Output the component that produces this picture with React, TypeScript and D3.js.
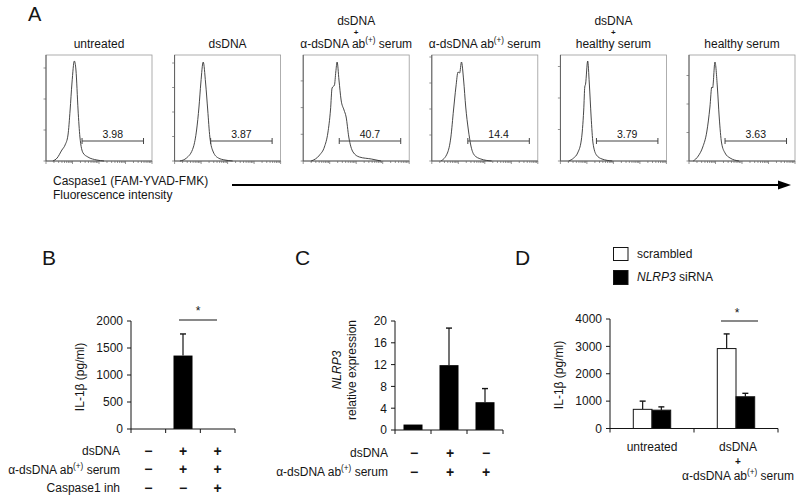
import React from "react";
import * as d3 from "d3";

// ---------------- Panel A data ----------------
const flowTitleTop = ["", "", "dsDNA", "", "dsDNA", ""];
const flowTitleBottom = [
  "untreated",
  "dsDNA",
  "α-dsDNA ab(+) serum",
  "α-dsDNA ab(+) serum",
  "healthy serum",
  "healthy serum",
];
const gatePercents = ["3.98", "3.87", "40.7", "14.4", "3.79", "3.63"];
const gateRange = [1.36, 3.68]; // log10 fluorescence
const gateLevel = 20; // count level of gate bar
const flowCountTickStep = [31, 24.5, 26.7, 26, 31.5, 28.5];

// [log10 fluorescence, count]
const histUntreated = [[0.26,0],[0.42,3],[0.60,11],[0.72,16],[0.83,26],[0.91,51],[0.98,78],[1.07,100],[1.13,91],[1.21,51],[1.28,24],[1.40,8],[1.58,4],[1.92,1],[2.19,0]];
const histDsDNA = [[0.20,0],[0.45,3],[0.71,14],[0.83,31],[0.92,54],[0.99,78],[1.08,99],[1.17,78],[1.25,51],[1.33,24],[1.46,9],[1.65,3],[1.90,1],[2.19,0]];
const histDsDNAAb = [[0.30,0],[0.62,6],[0.80,14],[0.93,28],[1.03,51],[1.09,73],[1.18,76],[1.23,89],[1.28,99],[1.35,81],[1.43,61],[1.54,51],[1.62,44],[1.72,24],[1.88,9],[2.12,4],[2.57,2],[2.94,0]];
const histAb = [[0.34,0],[0.59,8],[0.72,24],[0.82,51],[0.91,74],[0.99,89],[1.05,88],[1.12,99],[1.20,81],[1.28,54],[1.38,31],[1.47,16],[1.60,6],[1.85,2],[2.26,0]];
const histDsDNAHealthy = [[0.31,0],[0.50,3],[0.65,8],[0.79,21],[0.88,51],[0.92,74],[0.95,77],[1.03,100],[1.09,78],[1.16,44],[1.23,18],[1.36,6],[1.57,2],[1.96,0]];
const histHealthy = [[0.16,0],[0.35,5],[0.52,14],[0.67,29],[0.79,54],[0.86,74],[0.89,73],[0.98,99],[1.07,74],[1.14,44],[1.23,18],[1.36,8],[1.55,3],[1.89,0]];
const flowHists = [histUntreated, histDsDNA, histDsDNAAb, histAb, histDsDNAHealthy, histHealthy];

// ---------------- Panel B data ----------------
const bRowLabels = ["dsDNA", "α-dsDNA ab(+) serum", "Caspase1 inh"];
const bSigns = [["−", "+", "+"], ["−", "+", "+"], ["−", "−", "+"]];
const bMeans = [0, 1360, 0];
const bSD = [0, 400, 0];
const bTicks = [0, 500, 1000, 1500, 2000];

// ---------------- Panel C data ----------------
const cRowLabels = ["dsDNA", "α-dsDNA ab(+) serum"];
const cSigns = [["−", "+", "−"], ["−", "+", "+"]];
const cMeans = [1, 11.9, 5.1];
const cSD = [0, 6.8, 2.5];
const cTicks = [0, 4, 8, 12, 16, 20];

// ---------------- Panel D data ----------------
const dGroupTop = ["", "dsDNA"];
const dGroupBottom = ["untreated", "α-dsDNA ab(+) serum"];
const dSeries = ["scrambled", "NLRP3 siRNA"];
const dScrambled = [700, 2920];
const dScrambledSD = [300, 535];
const dSiRNA = [670, 1160];
const dSiRNASD = [120, 125];
const dTicks = [0, 1000, 2000, 3000, 4000];

const FONT = "'Liberation Sans', Arial, Helvetica, sans-serif";
const INK = "#151515";

function supParts(text: string, size: number) {
  const parts = text.split("(+)");
  if (parts.length === 1) return [<tspan key="a">{text}</tspan>];
  return [
    <tspan key="a">{parts[0]}</tspan>,
    <tspan key="b" fontSize={size * 0.68} dy={-size * 0.4}>(+)</tspan>,
    <tspan key="c" dy={size * 0.4}>{parts[1]}</tspan>,
  ];
}

function SupText({ text, x, y, anchor = "middle", size = 12 }: any) {
  return (
    <text x={x} y={y} textAnchor={anchor} fontSize={size} fill={INK}>
      {supParts(text, size)}
    </text>
  );
}

// stacked "top / + / bottom" label
function StackLabel({ top, bottom, x, yTop, yPlus, yBottom, plusSize = 10, size = 12 }: any) {
  if (!top) return <SupText text={bottom} x={x} y={yBottom} size={size} />;
  return (
    <g>
      <text x={x} y={yTop} textAnchor="middle" fontSize={size} fill={INK}>{top}</text>
      <text x={x} y={yPlus} textAnchor="middle" fontSize={plusSize} fontWeight="bold" fill={INK}>+</text>
      <SupText text={bottom} x={x} y={yBottom} size={size} />
    </g>
  );
}

// ---------------- Panel A ----------------
const BOX = 106;
const FLOW_LEFT0 = 46;
const FLOW_STEP = 128.6;
const FLOW_BOTTOM = 161;
const FLOW_Y_MAX = 106;

function FlowPanel({ i }: { i: number }) {
  const left = FLOW_LEFT0 + i * FLOW_STEP;
  const x = d3.scaleLinear().domain([0, 4]).range([left, left + BOX]);
  const y = d3.scaleLinear().domain([0, FLOW_Y_MAX]).range([FLOW_BOTTOM, FLOW_BOTTOM - BOX]);
  const path = d3
    .line<number[]>()
    .x((d) => x(d[0]))
    .y((d) => y(d[1]))
    .curve(d3.curveMonotoneX)(flowHists[i] as number[][]);
  const yTicks = d3.range(0, FLOW_Y_MAX, flowCountTickStep[i]);
  const xTicks: { v: number; major: boolean }[] = [];
  for (let d = 0; d < 4; d++)
    for (let k = 1; k < 10; k++) xTicks.push({ v: d + Math.log10(k), major: k === 1 });
  xTicks.push({ v: 4, major: true });
  const cx = left + BOX / 2;
  const gy = y(gateLevel);
  return (
    <g>
      <StackLabel top={flowTitleTop[i]} bottom={flowTitleBottom[i]} x={cx} yTop={25} yPlus={35} yBottom={47.8} plusSize={8} />
      <rect x={left} y={FLOW_BOTTOM - BOX} width={BOX} height={BOX} fill="none" stroke="#9a9a9a" strokeWidth={0.8} />
      <line x1={left} x2={left} y1={FLOW_BOTTOM - BOX} y2={FLOW_BOTTOM} stroke="#555" strokeWidth={0.9} />
      <line x1={left} x2={left + BOX} y1={FLOW_BOTTOM} y2={FLOW_BOTTOM} stroke="#555" strokeWidth={0.9} />
      {yTicks.map((t, k) => (
        <line key={k} x1={left - 2.5} x2={left} y1={y(t)} y2={y(t)} stroke="#666" strokeWidth={0.7} />
      ))}
      {xTicks.map((t, k) => (
        <line key={k} x1={x(t.v)} x2={x(t.v)} y1={FLOW_BOTTOM} y2={FLOW_BOTTOM + (t.major ? 3 : 2)} stroke="#666" strokeWidth={0.7} />
      ))}
      <path d={path || ""} fill="none" stroke="#333" strokeWidth={0.9} />
      <line x1={x(gateRange[0])} x2={x(gateRange[1])} y1={gy} y2={gy} stroke="#444" strokeWidth={1} />
      <line x1={x(gateRange[0])} x2={x(gateRange[0])} y1={gy - 3} y2={gy + 3} stroke="#444" strokeWidth={1} />
      <line x1={x(gateRange[1])} x2={x(gateRange[1])} y1={gy - 3} y2={gy + 3} stroke="#444" strokeWidth={1} />
      <text x={(x(gateRange[0]) + x(gateRange[1])) / 2} y={gy - 3} textAnchor="middle" fontSize={10.5} fill={INK}>
        {gatePercents[i]}
      </text>
    </g>
  );
}

// ---------------- generic helpers ----------------
function YAxis({ scale, x0, ticks }: any) {
  const [a, b] = scale.range();
  return (
    <g>
      <line x1={x0} x2={x0} y1={a} y2={b} stroke={INK} strokeWidth={1} />
      {ticks.map((t: number) => (
        <g key={t}>
          <line x1={x0 - 4} x2={x0} y1={scale(t)} y2={scale(t)} stroke={INK} strokeWidth={1} />
          <text x={x0 - 8} y={scale(t)} dy="0.36em" textAnchor="end" fontSize={12} fill={INK}>
            {t}
          </text>
        </g>
      ))}
    </g>
  );
}

function ErrorBar({ cx, yBase, yTop, color = INK }: any) {
  return (
    <g>
      <line x1={cx} x2={cx} y1={yBase} y2={yTop} stroke={color} strokeWidth={1.2} />
      <line x1={cx - 3} x2={cx + 3} y1={yTop} y2={yTop} stroke={color} strokeWidth={1.4} />
    </g>
  );
}

function Sign({ s, x, y }: any) {
  return (
    <text x={x} y={y} textAnchor="middle" fontSize={14} fontWeight="bold" fill={INK}>
      {s}
    </text>
  );
}

// ---------------- Panel B ----------------
function PanelB() {
  const x = d3.scaleBand<number>().domain([0, 1, 2]).range([131, 235]);
  const y = d3.scaleLinear().domain([0, 2000]).range([429, 321]);
  const bw = 19;
  const boundaries = [0, 1, 2].map((k) => x(k)!).concat([235]);
  return (
    <g>
      <text x={42} y={265} fontSize={21} fill={INK}>B</text>
      <text transform="translate(84,377) rotate(-90)" textAnchor="middle" fontSize={12} fill={INK}>
        IL-1β (pg/ml)
      </text>
      {bMeans.map((v, k) => {
        const cx = x(k)! + x.bandwidth() / 2;
        return (
          <g key={k}>
            {v > 0 && <rect x={cx - bw / 2} y={y(v)} width={bw} height={y(0) - y(v)} fill="#000" />}
            {bSD[k] > 0 && <ErrorBar cx={cx} yBase={y(v)} yTop={y(v + bSD[k])} />}
          </g>
        );
      })}
      <YAxis scale={y} x0={131} ticks={bTicks} />
      <line x1={131} x2={235} y1={y(0)} y2={y(0)} stroke={INK} strokeWidth={1} />
      {boundaries.map((b, k) => (
        <line key={k} x1={b} x2={b} y1={y(0)} y2={y(0) + 4} stroke={INK} strokeWidth={1} />
      ))}
      <line x1={179} x2={217} y1={320} y2={320} stroke={INK} strokeWidth={1.2} />
      <text x={198} y={315} textAnchor="middle" fontSize={12} fill={INK}>*</text>
      {bRowLabels.map((lab, r) => (
        <g key={r}>
          <SupText text={lab} x={120} y={455 + r * 18.5} anchor="end" size={12} />
          {bSigns[r].map((s, k) => (
            <Sign key={k} s={s} x={x(k)! + x.bandwidth() / 2} y={455.5 + r * 18.5} />
          ))}
        </g>
      ))}
    </g>
  );
}

// ---------------- Panel C ----------------
function PanelC() {
  const x = d3.scaleBand<number>().domain([0, 1, 2]).range([395, 503]);
  const y = d3.scaleLinear().domain([0, 20]).range([430, 321]);
  const bw = 19;
  const boundaries = [0, 1, 2].map((k) => x(k)!).concat([503]);
  return (
    <g>
      <text x={295} y={265} fontSize={21} fill={INK}>C</text>
      <text transform="translate(341,370) rotate(-90)" textAnchor="middle" fontSize={12} fontStyle="italic" fill={INK}>
        NLRP3
      </text>
      <text transform="translate(355.5,370) rotate(-90)" textAnchor="middle" fontSize={12} fill={INK}>
        relative expression
      </text>
      {cMeans.map((v, k) => {
        const cx = x(k)! + x.bandwidth() / 2;
        return (
          <g key={k}>
            <rect x={cx - bw / 2} y={y(v)} width={bw} height={y(0) - y(v)} fill="#000" />
            {cSD[k] > 0 && <ErrorBar cx={cx} yBase={y(v)} yTop={y(v + cSD[k])} />}
          </g>
        );
      })}
      <YAxis scale={y} x0={395} ticks={cTicks} />
      <line x1={395} x2={503} y1={y(0)} y2={y(0)} stroke={INK} strokeWidth={1} />
      {boundaries.map((b, k) => (
        <line key={k} x1={b} x2={b} y1={y(0)} y2={y(0) + 4} stroke={INK} strokeWidth={1} />
      ))}
      {cRowLabels.map((lab, r) => (
        <g key={r}>
          <SupText text={lab} x={388} y={457 + r * 19} anchor="end" size={12} />
          {cSigns[r].map((s, k) => (
            <Sign key={k} s={s} x={x(k)! + x.bandwidth() / 2 + 1} y={457.5 + r * 19} />
          ))}
        </g>
      ))}
    </g>
  );
}

// ---------------- Panel D ----------------
function PanelD() {
  const x0 = d3.scaleBand<number>().domain([0, 1]).range([610, 778]);
  const x1 = d3.scaleBand<number>().domain([0, 1]).range([-18.7, 18.7]);
  const y = d3.scaleLinear().domain([0, 4000]).range([428.5, 319]);
  const series = [
    { vals: dScrambled, sd: dScrambledSD, fill: "#fff" },
    { vals: dSiRNA, sd: dSiRNASD, fill: "#000" },
  ];
  return (
    <g>
      <text x={515} y={265} fontSize={21} fill={INK}>D</text>
      {/* legend */}
      <rect x={613.5} y={247.5} width={14.5} height={13} fill="#fff" stroke={INK} strokeWidth={1} />
      <text x={637} y={257.5} fontSize={12} fill={INK}>{dSeries[0]}</text>
      <rect x={613.5} y={270.5} width={14.5} height={14} fill="#000" stroke={INK} strokeWidth={1} />
      <text x={637} y={281} fontSize={12} fill={INK}>
        <tspan fontStyle="italic">NLRP3</tspan> siRNA
      </text>
      <text transform="translate(563,375) rotate(-90)" textAnchor="middle" fontSize={12} fill={INK}>
        IL-1β (pg/ml)
      </text>
      {dGroupBottom.map((g, gi) => {
        const gc = x0(gi)! + x0.bandwidth() / 2;
        return (
          <g key={gi}>
            {series.map((s, si) => {
              const bx = gc + x1(si)!;
              const cx = bx + x1.bandwidth() / 2;
              const v = s.vals[gi];
              return (
                <g key={si}>
                  <ErrorBar cx={cx} yBase={y(v)} yTop={y(v + s.sd[gi])} />
                  <rect x={bx} y={y(v)} width={x1.bandwidth()} height={y(0) - y(v)} fill={s.fill} stroke={INK} strokeWidth={1} />
                </g>
              );
            })}
            <StackLabel
              top={dGroupTop[gi]}
              bottom={g}
              x={gc + (gi === 1 ? 2 : 0)}
              yTop={451}
              yPlus={464.5}
              yBottom={gi === 1 ? 480 : 451}
            />
          </g>
        );
      })}
      <YAxis scale={y} x0={610} ticks={dTicks} />
      <line x1={610} x2={778} y1={y(0)} y2={y(0)} stroke={INK} strokeWidth={1} />
      {[610, 694, 778].map((b, k) => (
        <line key={k} x1={b} x2={b} y1={y(0)} y2={y(0) + 4} stroke={INK} strokeWidth={1} />
      ))}
      <line x1={721} x2={758} y1={321} y2={321} stroke={INK} strokeWidth={1.2} />
      <text x={737} y={317} textAnchor="middle" fontSize={12} fill={INK}>*</text>
    </g>
  );
}

export default function App() {
  return (
    <svg
      width={800}
      height={499}
      style={{ position: "absolute", left: 0, top: 0, display: "block", background: "#fff" }}
      fontFamily={FONT}
    >
      <rect x={0} y={0} width={800} height={499} fill="#fff" />
      <text x={28} y={21} fontSize={20} fill={INK}>A</text>
      {flowHists.map((_, i) => (
        <FlowPanel key={i} i={i} />
      ))}
      <text x={53} y={185} fontSize={12} fill={INK}>Caspase1 (FAM-YVAD-FMK)</text>
      <text x={53} y={198.5} fontSize={12} fill={INK}>Fluorescence intensity</text>
      <line x1={232} x2={780} y1={185} y2={185} stroke="#000" strokeWidth={2} />
      <path d="M 791 185 L 778 180.5 L 778 189.5 Z" fill="#000" />
      <PanelB />
      <PanelC />
      <PanelD />
    </svg>
  );
}
